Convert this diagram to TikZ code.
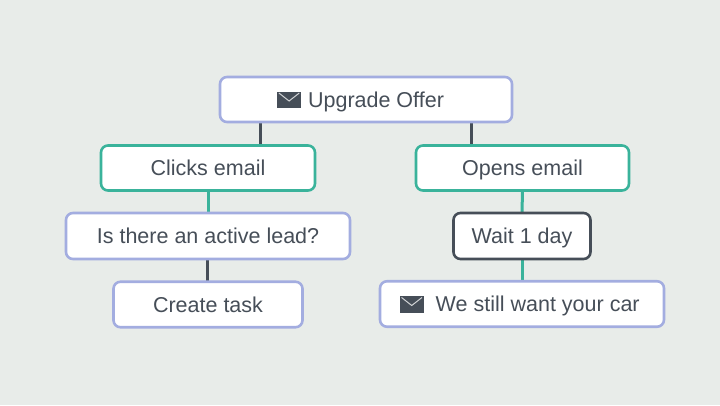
\documentclass[tikz,border=0pt]{standalone}
\usepackage{fontspec}
\setmainfont{Liberation Sans}
\usetikzlibrary{backgrounds}
\definecolor{bg}{HTML}{E8ECE9}
\definecolor{lav}{HTML}{A3ADE0}
\definecolor{teal}{HTML}{3AB39B}
\definecolor{dk}{HTML}{464E58}
\newcommand{\envicon}{\tikz[x=1pt,y=1pt,baseline=1pt,sharp corners]{%
  \fill[dk] (0,0) rectangle (24,16.5);
  \draw[white!75!dk,line width=1pt,line join=miter] (1.8,15.2) -- (12,7.2) -- (22.2,15.2);}}
\tikzset{
  box/.style={draw, fill=white, rounded corners=7pt, line width=2.6pt, outer sep=0pt,
    text=dk, font=\fontsize{21.5}{25}\selectfont, inner sep=0pt, anchor=center,
    text height=15.4pt, text depth=0pt},
  lavbox/.style={box, draw=lav},
  tealbox/.style={box, draw=teal},
  dkbox/.style={box, draw=dk},
  conn/.style={line width=3pt},
}
\begin{document}
\begin{tikzpicture}[x=1pt,y=-1pt]
\begin{scope}[on background layer]
\fill[bg] (0,0) rectangle (720,405);
\end{scope}
\useasboundingbox (0,0) rectangle (720,405);
\node[lavbox, minimum width=292pt, minimum height=45pt] (up) at (366,99.5) {\envicon\kern7pt Upgrade Offer\kern11pt\relax};
\node[tealbox, minimum width=214pt, minimum height=45pt] (clicks) at (208,168) {Clicks email};
\node[tealbox, minimum width=213pt, minimum height=45pt] (opens) at (522.5,168) {Opens email};
\node[lavbox, minimum width=284pt, minimum height=46pt] (lead) at (208,236) {Is there an active lead?};
\node[dkbox, minimum width=137pt, minimum height=46pt] (wait) at (522,236) {Wait 1 day};
\node[lavbox, minimum width=189pt, minimum height=45.5pt] (task) at (208,304.5) {Create task};
\node[lavbox, minimum width=284pt, minimum height=45.5pt] (car) at (522,304) {\envicon\kern12pt We still want your car\kern4.6pt\relax};
\begin{scope}[on background layer]
\draw[conn, dk] ([xshift=40pt]up.south west) -- ([xshift=40pt]up.south west |- clicks.north);
\draw[conn, dk] ([xshift=-41pt]up.south east) -- ([xshift=-41pt]up.south east |- opens.north);
\draw[conn, teal] (clicks.south) -- (lead.north);
\draw[conn, dk] ([xshift=-1pt]lead.south) -- ([xshift=-1pt]task.north);
\draw[conn, teal] (opens.south) -- (wait.north);
\draw[conn, teal] (wait.south) -- (car.north);
\end{scope}
\end{tikzpicture}
\end{document}
